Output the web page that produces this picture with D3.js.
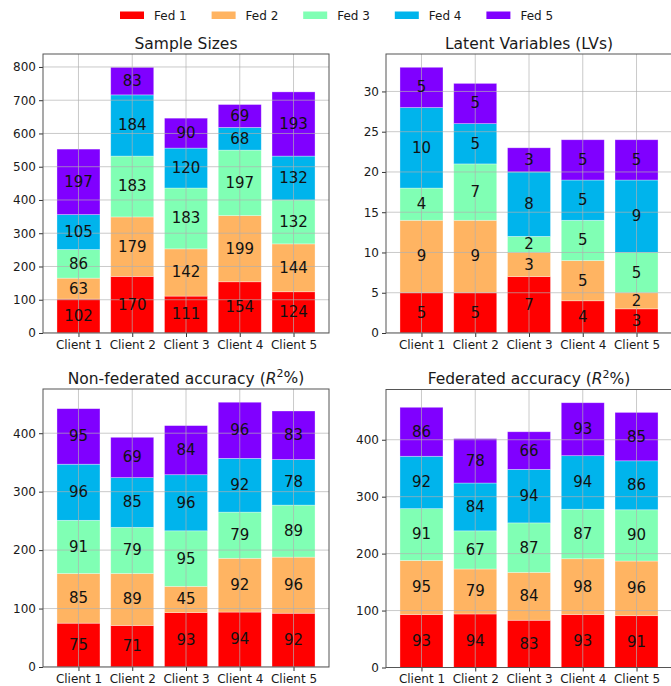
<!DOCTYPE html>
<html>
<head>
<meta charset="utf-8">
<script src="https://cdn.jsdelivr.net/npm/d3@7"></script>
<style>
  html, body { margin: 0; padding: 0; background: #fff; }
  svg { display: block; font-family: "DejaVu Sans", sans-serif; }
</style>
</head>
<body>
<svg id="chart" width="671" height="686"></svg>
<script>
// Clients on the x axis and federation series stacked in each bar
const clients = ["Client 1", "Client 2", "Client 3", "Client 4", "Client 5"];
const feds = ["Fed 1", "Fed 2", "Fed 3", "Fed 4", "Fed 5"];
const fedColors = ["#ff0000", "#ffb462", "#80ffb4", "#00b4ec", "#8000ff"];

// Sample sizes, one row per federation
const sampleFed1 = [102, 170, 111, 154, 124];
const sampleFed2 = [63, 179, 142, 199, 144];
const sampleFed3 = [86, 183, 183, 197, 132];
const sampleFed4 = [105, 184, 120, 68, 132];
const sampleFed5 = [197, 83, 90, 69, 193];

// Latent variables
const lvFed1 = [5, 5, 7, 4, 3];
const lvFed2 = [9, 9, 3, 5, 2];
const lvFed3 = [4, 7, 2, 5, 5];
const lvFed4 = [10, 5, 8, 5, 9];
const lvFed5 = [5, 5, 3, 5, 5];

// Non-federated accuracy (R^2 %)
const nonFedFed1 = [75, 71, 93, 94, 92];
const nonFedFed2 = [85, 89, 45, 92, 96];
const nonFedFed3 = [91, 79, 95, 79, 89];
const nonFedFed4 = [96, 85, 96, 92, 78];
const nonFedFed5 = [95, 69, 84, 96, 83];

// Federated accuracy (R^2 %)
const fedAccFed1 = [93, 94, 83, 93, 91];
const fedAccFed2 = [95, 79, 84, 98, 96];
const fedAccFed3 = [91, 67, 87, 87, 90];
const fedAccFed4 = [92, 84, 94, 94, 86];
const fedAccFed5 = [86, 78, 66, 93, 85];

// Tick values per panel
const sampleTicks = [0, 100, 200, 300, 400, 500, 600, 700, 800];
const lvTicks = [0, 5, 10, 15, 20, 25, 30];
const accTicks = [0, 100, 200, 300, 400];

const panels = [
  { title: [{ t: "Sample Sizes" }], series: [sampleFed1, sampleFed2, sampleFed3, sampleFed4, sampleFed5], ticks: sampleTicks, x: 43, y: 54, w: 286, h: 279 },
  { title: [{ t: "Latent Variables (LVs)" }], series: [lvFed1, lvFed2, lvFed3, lvFed4, lvFed5], ticks: lvTicks, x: 386, y: 54, w: 286, h: 279 },
  { title: [{ t: "Non-federated accuracy (" }, { t: "R", italic: true }, { t: "2", sup: true }, { t: "%)" }], series: [nonFedFed1, nonFedFed2, nonFedFed3, nonFedFed4, nonFedFed5], ticks: accTicks, x: 43, y: 389, w: 286, h: 278 },
  { title: [{ t: "Federated accuracy (" }, { t: "R", italic: true }, { t: "2", sup: true }, { t: "%)" }], series: [fedAccFed1, fedAccFed2, fedAccFed3, fedAccFed4, fedAccFed5], ticks: accTicks, x: 386, y: 389.5, w: 286, h: 278 }
];

const svg = d3.select("#chart");
const textColor = "#1a1a1a";

// Legend across the top
const legend = svg.append("g");
feds.forEach((name, i) => {
  const g = legend.append("g").attr("transform", `translate(${120 + i * 91.6},0)`);
  g.append("rect").attr("x", 0).attr("y", 11.5).attr("width", 24).attr("height", 7.5).attr("fill", fedColors[i]);
  g.append("text").attr("x", 34).attr("y", 15.5).attr("dy", "0.35em")
    .attr("font-size", 12).attr("fill", textColor).text(name);
});

panels.forEach(p => {
  const g = svg.append("g").attr("transform", `translate(${p.x},${p.y})`);

  // Stack the five federation series per client
  const rows = clients.map((c, ci) => {
    const r = { client: c };
    feds.forEach((f, fi) => { r[f] = p.series[fi][ci]; });
    return r;
  });
  const stacked = d3.stack().keys(feds)(rows);
  const maxTotal = d3.max(rows, r => d3.sum(feds, f => r[f]));

  const x = d3.scaleLinear().domain([-0.66, clients.length - 1 + 0.66]).range([0, p.w]);
  const y = d3.scaleLinear().domain([0, maxTotal * 1.05]).range([p.h, 0]);
  const barW = (x(0.8) - x(0));

  const clip = "clip" + p.x + "_" + p.y;
  g.append("clipPath").attr("id", clip).append("rect").attr("width", p.w).attr("height", p.h);

  // Bars
  const layers = g.append("g");
  stacked.forEach((layer, li) => {
    layers.append("g").selectAll("rect").data(layer).join("rect")
      .attr("x", (d, i) => x(i) - barW / 2)
      .attr("width", barW)
      .attr("y", d => y(d[1]))
      .attr("height", d => y(d[0]) - y(d[1]))
      .attr("fill", fedColors[li])
      .attr("stroke", "#ffffff")
      .attr("stroke-opacity", 0.45)
      .attr("stroke-width", 0.7);
  });

  // Grid lines drawn over the bars
  const grid = g.append("g").attr("clip-path", `url(#${clip})`)
    .attr("stroke", "#b0b0b0").attr("stroke-width", 0.9).attr("stroke-opacity", 0.75);
  grid.selectAll("line.h").data(p.ticks).join("line").attr("class", "h")
    .attr("x1", 0).attr("x2", p.w).attr("y1", d => y(d)).attr("y2", d => y(d));
  grid.selectAll("line.v").data(clients).join("line").attr("class", "v")
    .attr("y1", 0).attr("y2", p.h).attr("x1", (d, i) => x(i)).attr("x2", (d, i) => x(i));

  // Value labels centred in each segment
  stacked.forEach(layer => {
    g.append("g").selectAll("text").data(layer).join("text")
      .attr("x", (d, i) => x(i))
      .attr("y", d => y((d[0] + d[1]) / 2))
      .attr("dy", "0.33em")
      .attr("text-anchor", "middle")
      .attr("font-size", 15)
      .attr("fill", "#111")
      .text(d => d[1] - d[0]);
  });

  // Axes
  const yAxis = d3.axisLeft(y).tickValues(p.ticks).tickSize(4).tickPadding(3).tickFormat(d3.format("d"));
  const xAxis = d3.axisBottom(x).tickValues(d3.range(clients.length)).tickSize(4).tickPadding(3).tickFormat(i => clients[i]);
  const ya = g.append("g").call(yAxis);
  const xa = g.append("g").attr("transform", `translate(0,${p.h})`).call(xAxis);
  [ya, xa].forEach(a => {
    a.select(".domain").remove();
    a.selectAll("line").attr("stroke", "#333");
    a.selectAll("text").attr("font-size", 12).attr("fill", textColor).attr("font-family", "DejaVu Sans, sans-serif");
  });

  // Frame
  g.append("rect").attr("width", p.w).attr("height", p.h)
    .attr("fill", "none").attr("stroke", "#555").attr("stroke-width", 1);

  // Title, with an italic R and superscript 2 where needed
  const t = g.append("text").attr("x", p.w / 2).attr("y", -5.5)
    .attr("text-anchor", "middle").attr("font-size", 15.5).attr("fill", textColor);
  p.title.forEach((part, i) => {
    const s = t.append("tspan").text(part.t);
    if (part.italic) s.attr("font-style", "italic");
    if (part.sup) s.attr("font-size", 11).attr("dy", "-0.55em");
    else if (i > 0 && p.title[i - 1].sup) s.attr("dy", "0.38em");
  });
});
</script>
</body>
</html>
